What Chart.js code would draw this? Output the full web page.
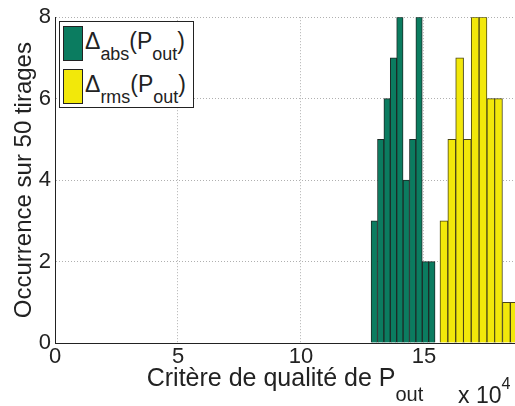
<!DOCTYPE html>
<html>
<head>
<meta charset="utf-8">
<script src="https://cdn.jsdelivr.net/npm/chart.js@4.4.1/dist/chart.umd.min.js"></script>
<style>
    body { margin: 0; background: #fff; }
    #wrap { position: relative; width: 515px; height: 406px; overflow: hidden; font-family: "Liberation Sans", Arial, sans-serif; color: #222; }
    #legend { position: absolute; left: 59px; top: 21px; width: 133px; height: 85px; border: 1px solid #222; background: #fff; }
    .row { position: absolute; left: 3px; height: 34px; display: flex; align-items: flex-start; }
    .swatch { width: 18px; height: 33px; border: 1px solid #222; }
    .lbl { font-size: 23px; line-height: 26px; margin-left: 2px; margin-top: 2px; white-space: nowrap; }
    .lbl sub { font-size: 0.78em; vertical-align: -11px; line-height: 0; }
    #xtitle { position: absolute; left: 55px; width: 460px; top: 363px; text-align: center; font-size: 25px; line-height: 28px; white-space: nowrap; }
    #xtitle sub { font-size: 0.8em; vertical-align: -15px; line-height: 0; }
    #xexp { position: absolute; left: 458px; top: 382px; font-size: 23px; line-height: 26px; white-space: nowrap; }
    #xexp sup { font-size: 0.7em; vertical-align: 14px; line-height: 0; }
</style>
</head>
<body>
<div id="wrap">
    <canvas id="chart" width="515" height="406"></canvas>
    <div id="legend"></div>
    <div id="xtitle">Critère de qualité de P<sub>out</sub></div>
    <div id="xexp">x 10<sup>4</sup></div>
</div>
<script>
// bin centres in units of 10^4, counts per bin
const absCenters = [12.98, 13.24, 13.50, 13.76, 14.02, 14.28, 14.54, 14.80, 15.06, 15.32];
const absCounts = [3, 5, 6, 7, 8, 4, 5, 8, 2, 2];
const rmsCenters = [15.81, 16.13, 16.45, 16.76, 17.08, 17.40, 17.72, 18.03, 18.35, 18.67];
const rmsCounts = [3, 5, 7, 5, 8, 8, 6, 6, 1, 1];
const seriesNames = ['abs', 'rms'];
const xTicks = [0, 5, 10, 15];
const yTicks = [0, 2, 4, 6, 8];
const xMax = 18.7;

const colors = ['#0b7c60', '#f2e80a'];
const edges = ['#1d2b27', '#4a4616'];
const tickFont = { family: '"Liberation Sans", Arial, sans-serif', size: 22 };

const toPoints = (xs, ys) => xs.map((x, i) => ({ x, y: ys[i] }));

// legend with subscripts
const legend = document.getElementById('legend');
seriesNames.forEach((name, i) => {
    const row = document.createElement('div');
    row.className = 'row';
    row.style.top = (4 + i * 43) + 'px';
    row.innerHTML = `<div class="swatch" style="background:${colors[i]}"></div>` +
        `<div class="lbl">Δ<sub>${name}</sub>(P<sub>out</sub>)</div>`;
    legend.appendChild(row);
});

const chart = new Chart(document.getElementById('chart'), {
    type: 'bar',
    data: {
        datasets: [
            { label: 'abs', data: toPoints(absCenters, absCounts), backgroundColor: colors[0], borderColor: edges[0], borderWidth: 1, grouped: false, barPercentage: 1, categoryPercentage: 1 },
            { label: 'rms', data: toPoints(rmsCenters, rmsCounts), backgroundColor: colors[1], borderColor: edges[1], borderWidth: 1, grouped: false, barPercentage: 1, categoryPercentage: 1 }
        ]
    },
    options: {
        responsive: false,
        animation: false,
        layout: { padding: { top: 17, right: 0, left: 0, bottom: 0 } },
        plugins: { legend: { display: false }, tooltip: { enabled: false } },
        scales: {
            x: {
                type: 'linear',
                min: 0,
                max: xMax,
                offset: false,
                afterBuildTicks: s => { s.ticks = xTicks.map(v => ({ value: v })); },
                afterFit: s => { s.height = 63; },
                grid: { offset: false, color: '#b0b0b0', drawTicks: false, tickLength: 0 },
                border: { color: '#222', width: 1, dash: [1, 2] },
                ticks: { font: tickFont, color: '#222', padding: 1, maxRotation: 0 }
            },
            y: {
                min: 0,
                max: 8,
                afterBuildTicks: s => { s.ticks = yTicks.map(v => ({ value: v })); },
                afterFit: s => { s.width = 55; },
                grid: { color: '#b0b0b0', drawTicks: false, tickLength: 0 },
                border: { color: '#222', width: 1, dash: [1, 2] },
                ticks: { font: tickFont, color: '#222', padding: 4 },
                title: {
                    display: true,
                    text: 'Occurrence sur 50 tirages',
                    font: { family: '"Liberation Sans", Arial, sans-serif', size: 24 },
                    color: '#222',
                    padding: { top: 10, bottom: 0 }
                }
            }
        }
    }
});

// bar width = one bin width on the x scale
const xs = chart.scales.x;
[absCenters, rmsCenters].forEach((c, i) => {
    chart.data.datasets[i].barThickness = xs.getPixelForValue(c[1]) - xs.getPixelForValue(c[0]);
});
chart.update();
</script>
</body>
</html>
